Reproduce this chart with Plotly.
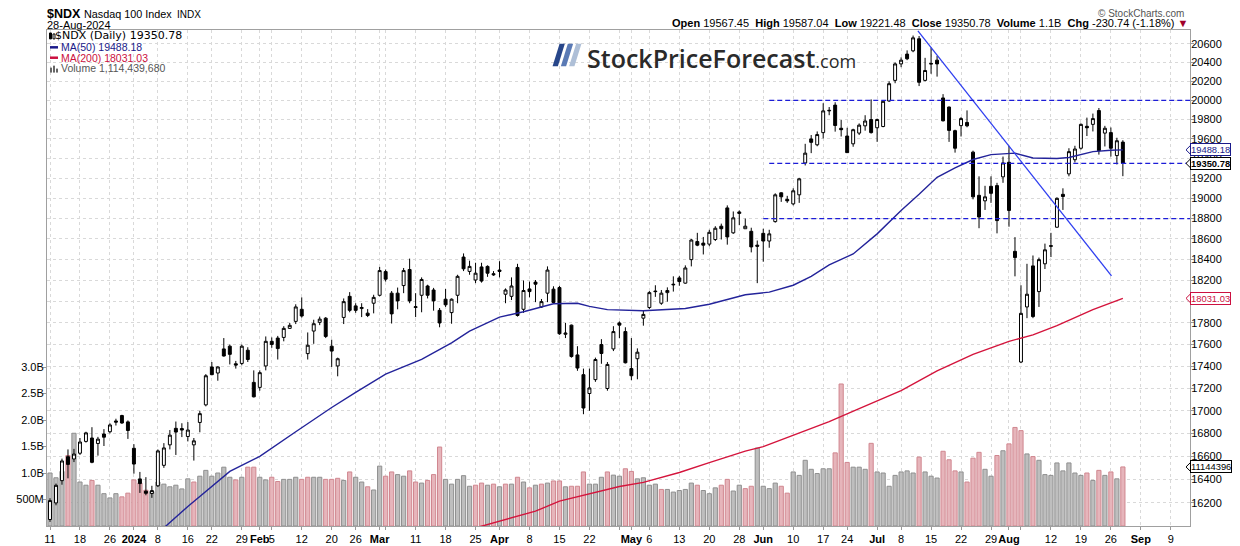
import math
import pandas as pd
import plotly.graph_objects as go

# trading calendar (market holidays skipped, like the chart's x axis)
HOLIDAYS = ["2023-12-25", "2024-01-01", "2024-01-15", "2024-02-19", "2024-03-29",
            "2024-05-27", "2024-06-19", "2024-07-04"]
days = [d for d in pd.bdate_range("2023-12-11", "2024-08-28")
        if d.strftime("%Y-%m-%d") not in HOLIDAYS]
future = list(pd.bdate_range("2024-08-29", "2024-09-13"))
axis_days = [d.strftime("%Y-%m-%d") for d in days + future]
pos = {d: i for i, d in enumerate(axis_days)}
x = list(range(len(days)))

OPEN = [
    16060, 16200, 16390, 16597, 16577, 16627, 16730, 16760, 16712, 16795,
    16815, 16910, 16958, 16902, 16670, 16405, 16300, 16280, 16346, 16522,
    16700, 16845, 16843, 16773, 16700, 16897, 17053, 17395, 17340, 17560,
    17585, 17424, 17427, 17548, 17255, 17210, 17404, 17630, 17660, 17666,
    17750, 17815, 17928, 17517, 17725, 17806, 17845, 17585, 17404, 17852,
    18050, 17960, 17935, 17892, 17985, 18060, 18285, 18080, 18080, 18152,
    18305, 17945, 18060, 18148, 18110, 17918, 18023, 17897, 18060, 18425,
    18287, 18205, 18330, 18335, 18265, 18300, 18070, 18050, 18325, 17928,
    18120, 18185, 17950, 18080, 18118, 18133, 17695, 17780, 17505, 17325,
    17155, 17280, 17600, 17200, 17560, 17800, 17720, 17380, 17470, 17845,
    17945, 18100, 17985, 18085, 18165, 18225, 18175, 18400, 18575, 18560,
    18550, 18595, 18725, 18905, 18660, 18850, 18700, 18675, 18540, 18655,
    18580, 18770, 19055, 18990, 18945, 19035, 19355, 19600, 19540, 19665,
    19890, 19950, 19710, 19630, 19550, 19660, 19735, 19800, 19715, 19728,
    19993, 20210, 20385, 20490, 20525, 20655, 20210, 20390, 20425, 20025,
    19930, 19685, 19737, 19770, 19465, 19030, 18975, 19120, 19127, 19215,
    19362, 18480, 17440, 17950, 18340, 18095, 18360, 18535, 18715, 19040,
    19245, 19388, 19505, 19730, 19750, 19893, 19660, 19665, 19430, 19567.45]
HIGH = [
    16240, 16365, 16580, 16660, 16665, 16760, 16815, 16855, 16770, 16838,
    16890, 16930, 16965, 16915, 16706, 16465, 16420, 16346, 16660, 16715,
    16830, 16905, 16890, 16900, 16760, 17000, 17330, 17440, 17400, 17660,
    17600, 17450, 17600, 17575, 17364, 17364, 17675, 17666, 17680, 17770,
    17800, 17975, 18040, 17712, 17830, 17860, 17855, 17645, 17480, 18030,
    18090, 17985, 17985, 17930, 18065, 18330, 18305, 18100, 18133, 18320,
    18410, 18080, 18230, 18160, 18130, 17940, 18120, 18030, 18255, 18460,
    18390, 18370, 18370, 18345, 18290, 18385, 18125, 18230, 18360, 18200,
    18190, 18205, 18025, 18335, 18145, 18150, 17800, 17785, 17585, 17380,
    17380, 17480, 17650, 17440, 17770, 17815, 17760, 17660, 17565, 17920,
    18100, 18155, 18110, 18135, 18240, 18245, 18345, 18600, 18660, 18620,
    18690, 18725, 18750, 18930, 18870, 18880, 18800, 18710, 18585, 18700,
    18690, 19050, 19060, 19025, 19100, 19205, 19550, 19640, 19677, 19970,
    19930, 19980, 19795, 19715, 19705, 19760, 19845, 20010, 19810, 20000,
    20200, 20400, 20455, 20530, 20690, 20685, 20450, 20560, 20470, 20065,
    19935, 19695, 19825, 19895, 19480, 19220, 19125, 19220, 19155, 19420,
    19530, 18618, 18155, 18360, 18440, 18420, 18555, 18660, 19010, 19100,
    19505, 19530, 19760, 19820, 19862, 19920, 19735, 19718, 19612, 19587.04]
LOW = [
    16040, 16180, 16355, 16410, 16550, 16612, 16720, 16540, 16606, 16690,
    16800, 16870, 16885, 16752, 16450, 16285, 16265, 16243, 16335, 16500,
    16660, 16612, 16768, 16730, 16563, 16810, 17040, 17320, 17270, 17490,
    17418, 17380, 17410, 17440, 17120, 17180, 17364, 17570, 17463, 17630,
    17745, 17790, 17850, 17463, 17607, 17780, 17660, 17395, 17310, 17790,
    17900, 17895, 17855, 17855, 17890, 18050, 18190, 17795, 17928, 18080,
    17985, 17855, 17900, 18030, 17915, 17760, 17950, 17793, 17985, 18290,
    18255, 18175, 18180, 18235, 18245, 18230, 17985, 18015, 17860, 17895,
    18040, 17995, 17940, 17995, 17985, 17690, 17660, 17480, 17360, 16970,
    17000, 17260, 17424, 17180, 17540, 17660, 17427, 17275, 17283, 17775,
    17930, 18045, 17970, 18000, 18095, 18150, 18170, 18335, 18530, 18450,
    18530, 18580, 18595, 18545, 18650, 18735, 18700, 18470, 18175, 18380,
    18515, 18760, 18965, 18955, 18930, 18955, 19330, 19455, 19525, 19605,
    19845, 19675, 19625, 19460, 19520, 19640, 19685, 19655, 19570, 19720,
    19985, 20180, 20350, 20425, 20510, 20150, 20200, 20280, 20250, 19780,
    19570, 19460, 19625, 19720, 18990, 18705, 18885, 18955, 18655, 19155,
    18720, 18240, 17430, 17845, 17845, 17950, 18310, 18425, 18710, 18885,
    19220, 19360, 19490, 19630, 19677, 19440, 19523, 19420, 19340, 19221.48]
CLOSE = [
    16220, 16350, 16560, 16530, 16620, 16725, 16805, 16548, 16750, 16767,
    16875, 16900, 16892, 16826, 16533, 16365, 16282, 16305, 16647, 16673,
    16785, 16812, 16830, 16830, 16735, 16975, 17315, 17325, 17395, 17495,
    17510, 17412, 17585, 17463, 17125, 17343, 17630, 17601, 17563, 17750,
    17778, 17950, 17865, 17594, 17793, 17836, 17675, 17540, 17470, 18000,
    17918, 17918, 17945, 17870, 18040, 18295, 18213, 17885, 18007, 18295,
    18007, 17952, 18210, 18060, 18007, 17800, 17970, 18023, 18240, 18312,
    18335, 18270, 18195, 18270, 18255, 18287, 18110, 18148, 17870, 18105,
    18095, 18165, 18000, 18300, 17992, 17700, 17706, 17490, 17385, 17025,
    17205, 17463, 17518, 17418, 17720, 17780, 17433, 17315, 17530, 17880,
    18085, 18095, 18080, 18105, 18160, 18190, 18320, 18590, 18540, 18540,
    18665, 18705, 18700, 18620, 18807, 18865, 18725, 18523, 18530, 18580,
    18650, 19035, 19015, 18975, 19075, 19195, 19455, 19565, 19645, 19890,
    19895, 19738, 19695, 19460, 19695, 19742, 19785, 19665, 19800, 19990,
    20175, 20385, 20425, 20440, 20665, 20190, 20315, 20385, 20385, 19787,
    19688, 19505, 19810, 19735, 19015, 18815, 19015, 19050, 18780, 19355,
    18880, 18420, 17890, 18070, 17860, 18400, 18495, 18530, 19000, 19018,
    19470, 19497, 19750, 19715, 19810, 19480, 19710, 19505, 19581.52, 19350.78]
VOLUME_B = [
    1.00, 0.91, 1.03, 1.33, 1.75, 0.83, 0.77, 0.86, 0.77, 0.61,
    0.53, 0.61, 0.55, 0.62, 0.87, 0.81, 0.675, 0.65, 0.83, 0.79,
    0.74, 0.77, 0.70, 0.89, 0.83, 0.94, 1.05, 0.94, 1.00, 1.11,
    0.92, 0.87, 0.92, 1.11, 1.11, 0.92, 0.87, 0.92, 0.84, 0.88,
    0.88, 0.92, 0.88, 0.92, 0.92, 0.92, 0.88, 0.88, 0.90, 0.86,
    1.02, 0.92, 0.83, 0.74, 0.68, 1.13, 0.94, 1.02, 0.97, 0.94,
    1.04, 0.83, 0.81, 0.86, 0.97, 1.49, 0.88, 0.79, 0.88, 0.95,
    0.75, 0.77, 0.81, 0.77, 0.79, 0.74, 0.79, 0.79, 0.92, 0.83,
    0.72, 0.77, 0.79, 0.81, 0.85, 0.85, 0.74, 0.75, 0.75, 1.02,
    0.79, 0.79, 0.92, 1.02, 0.96, 0.94, 1.08, 1.03, 0.89, 0.91,
    0.77, 0.79, 0.69, 0.69, 0.64, 0.67, 0.69, 0.81, 0.77, 0.67,
    0.61, 0.72, 0.77, 0.88, 0.66, 0.77, 0.705, 0.75, 1.47, 0.75,
    0.705, 0.81, 0.75, 0.62, 1.02, 0.955, 1.24, 1.07, 0.99, 1.08,
    1.08, 1.38, 2.68, 1.20, 1.11, 1.11, 1.07, 1.56, 1.02, 1.00,
    0.75, 0.955, 1.02, 1.04, 1.00, 1.30, 1.02, 0.94, 0.905, 1.41,
    1.25, 1.04, 1.02, 0.83, 1.28, 1.39, 1.07, 0.94, 1.33, 1.42,
    1.55, 1.86, 1.80, 1.36, 1.31, 1.24, 0.97, 0.955, 1.19, 1.04,
    1.19, 1.00, 0.955, 1.00, 0.86, 1.05, 0.955, 1.02, 0.89, 1.11443968]

# moving averages (trading-day position, value)
MA50_POS = [19, 23, 30, 35, 41, 47, 51, 56, 62, 67, 70, 75, 79, 84, 88, 90, 93, 99, 106, 110,
            116, 120, 124, 127, 130, 134, 138, 140, 142, 145, 148, 151, 154, 157, 161, 164,
            168, 170, 174, 177, 179]
MA50_VAL = [15990, 16170, 16470, 16600, 16815, 17030, 17165, 17330, 17465, 17615, 17725, 17855,
            17905, 17980, 17985, 17955, 17925, 17915, 17935, 17975, 18065, 18090, 18155, 18240,
            18350, 18455, 18650, 18770, 18880, 19040, 19210, 19305, 19390, 19440, 19455, 19405,
            19400, 19410, 19470, 19485, 19488.18]
MA200_POS = [71, 76, 81, 85, 90, 95, 99, 105, 110, 116, 119, 124, 130, 135, 140, 142, 148, 154,
             160, 164, 168, 174, 179]
MA200_VAL = [15990, 16060, 16130, 16215, 16275, 16340, 16375, 16460, 16545, 16645, 16685, 16785,
             16905, 17020, 17135, 17180, 17360, 17510, 17630, 17690, 17775, 17925, 18031.03]

TREND_POS = [144.8, 177.1]
TREND_VAL = [20740, 18245]
LEVELS = [20000, 19350, 18800]
LEVEL_START = [120, 120, 119]

TICKS = [("2023-12-11", "11"), ("2023-12-18", "18"), ("2023-12-26", "26"),
         ("2024-01-02", "<b>2024</b>"), ("2024-01-08", "8"), ("2024-01-16", "16"),
         ("2024-01-22", "22"), ("2024-01-29", "29"), ("2024-02-01", "<b>Feb</b>"),
         ("2024-02-05", "5"), ("2024-02-12", "12"), ("2024-02-20", "20"), ("2024-02-26", "26"),
         ("2024-03-01", "<b>Mar</b>"), ("2024-03-04", ""), ("2024-03-11", "11"),
         ("2024-03-18", "18"), ("2024-03-25", "25"), ("2024-04-01", "<b>Apr</b>"),
         ("2024-04-08", "8"), ("2024-04-15", "15"), ("2024-04-22", "22"), ("2024-04-29", ""),
         ("2024-05-01", "<b>May</b>"), ("2024-05-06", "6"), ("2024-05-13", "13"),
         ("2024-05-20", "20"), ("2024-05-28", "28"), ("2024-06-03", "<b>Jun</b>"),
         ("2024-06-10", "10"), ("2024-06-17", "17"), ("2024-06-24", "24"),
         ("2024-07-01", "<b>Jul</b>"), ("2024-07-08", "8"), ("2024-07-15", "15"),
         ("2024-07-22", "22"), ("2024-07-29", "29"), ("2024-08-01", "<b>Aug</b>"),
         ("2024-08-05", ""), ("2024-08-12", "12"), ("2024-08-19", "19"), ("2024-08-26", "26"),
         ("2024-09-02", "<b>Sep</b>"), ("2024-09-09", "9")]

PRICE_TICKS = list(range(16200, 20601, 200))
VOL_TICKS = [0.5e9, 1.0e9, 1.5e9, 2.0e9, 2.5e9, 3.0e9]
VOL_LABELS = ["500M", "1.0B", "1.5B", "2.0B", "2.5B", "3.0B"]

# Plot area in screenshot pixels. The page keeps the browser's 8px body margin and is
# photographed 8+546+8 px tall squeezed into 546, so the figure is sized for that.
L, R, T, B = 46, 1190, 29, 530
PAGE_MARGIN = 8
FIG_W, FIG_H = 1240 - PAGE_MARGIN, 546
SQ_Y = 546 / (FIG_H + 2 * PAGE_MARGIN)
fig_l = L - PAGE_MARGIN
fig_r = FIG_W - (R - PAGE_MARGIN)
fig_t = T / SQ_Y - PAGE_MARGIN
fig_b = FIG_H - (B / SQ_Y - PAGE_MARGIN)

X_RANGE = [-0.5, 190.2]
P_RANGE = [4.20427, 4.31702]
V_RANGE = [0, 9.36e9]

def px(v):
    return (v - L) / (R - L)
def py(v):
    return (B - v) / (B - T)
def price_px(p):
    return T + (P_RANGE[1] - math.log10(p)) / (P_RANGE[1] - P_RANGE[0]) * (B - T)
def vol_px(v):
    return B - v / V_RANGE[1] * (B - T)

volume = [v * 1e9 for v in VOLUME_B]
down = [i > 0 and CLOSE[i] < CLOSE[i - 1] for i in x]
vol_fill = ["#e6b5bb" if d else "#bebebe" for d in down]
vol_line = ["#d0868f" if d else "#8f8f8f" for d in down]

fig = go.Figure()

fig.add_trace(go.Bar(x=x, y=volume, yaxis="y", width=0.7,
                     marker=dict(color=vol_fill, line=dict(color=vol_line, width=1))))

fig.add_trace(go.Candlestick(x=x, open=OPEN, high=HIGH, low=LOW, close=CLOSE, yaxis="y2",
                             increasing=dict(line=dict(color="black", width=1), fillcolor="white"),
                             decreasing=dict(line=dict(color="black", width=1), fillcolor="black")))

fig.add_trace(go.Scatter(x=MA50_POS, y=MA50_VAL, yaxis="y2", mode="lines",
                         line=dict(color="#23239a", width=1.4)))
fig.add_trace(go.Scatter(x=MA200_POS, y=MA200_VAL, yaxis="y2", mode="lines",
                         line=dict(color="#d4143c", width=1.4)))
fig.add_trace(go.Scatter(x=TREND_POS, y=TREND_VAL, yaxis="y2", mode="lines",
                         line=dict(color="#2f3ff0", width=1.3)))

for lvl, start in zip(LEVELS, LEVEL_START):
    fig.add_trace(go.Scatter(x=[start, X_RANGE[1]], y=[lvl, lvl], yaxis="y2", mode="lines",
                             line=dict(color="#1c1cd8", width=1.3, dash="5px,3px")))

grid = dict(showgrid=True, gridcolor="#d9d9d9", griddash="3px,3px", gridwidth=1)

fig.update_layout(
    width=FIG_W, height=FIG_H,
    margin=dict(l=fig_l, r=fig_r, t=fig_t, b=fig_b, pad=0),
    paper_bgcolor="white", plot_bgcolor="white",
    showlegend=False, hovermode=False,
    font=dict(family="Liberation Sans, Arial", size=11, color="black"),
    xaxis=dict(range=X_RANGE, tickmode="array",
               tickvals=[pos[d] for d, _ in TICKS], ticktext=[t for _, t in TICKS],
               ticks="outside", ticklen=3, tickcolor="#999999", tickangle=0,
               showline=True, linecolor="#a0a0a0", mirror=True, zeroline=False,
               rangeslider=dict(visible=False), tickfont=dict(size=11), **grid),
    yaxis=dict(range=V_RANGE, side="left", tickmode="array",
               tickvals=VOL_TICKS, ticktext=VOL_LABELS,
               ticks="outside", ticklen=3, tickcolor="#999999", ticklabelstandoff=-3,
               showgrid=False, showline=True, linecolor="#a0a0a0", zeroline=False,
               tickfont=dict(size=11)),
    yaxis2=dict(overlaying="y", side="right", type="log",
                range=P_RANGE, tickmode="array",
                tickvals=PRICE_TICKS, ticktext=[str(v) for v in PRICE_TICKS],
                ticks="outside", ticklen=3, tickcolor="#999999", ticklabelstandoff=-5,
                showline=True, linecolor="#a0a0a0", zeroline=False,
                tickfont=dict(size=11), **grid),
)

ann = []
def text(xp, yp, s, size=11, color="black", anchor="left", family="Liberation Sans, Arial", **kw):
    ann.append(dict(xref="paper", yref="paper", x=px(xp), y=py(yp), text=s, showarrow=False,
                    xanchor=anchor, yanchor="middle",
                    font=dict(size=size, color=color, family=family), **kw))

# header
text(44, 13, "<b>$NDX</b>", size=12.5)
text(81, 13, "Nasdaq 100 Index", size=10.8)
text(174, 13, "INDX", size=10)
text(44, 23.5, "28-Aug-2024", size=11)
text(1186, 12.5, "© StockCharts.com", size=10, color="#555555", anchor="right")
text(1190, 22, "<b>Open</b> 19567.45  <b>High</b> 19587.04  <b>Low</b> 19221.48  "
     "<b>Close</b> 19350.78  <b>Volume</b> 1.1B  <b>Chg</b> -230.74 (-1.18%) "
     "<span style='color:#a0002a'>▼</span>", size=11, anchor="right")

# in-chart legend
text(52, 35, "$NDX (Daily) 19350.78", size=11, family="DejaVu Sans")
text(58, 46.5, "MA(50) 19488.18", size=10.5, color="#1a1a8a")
text(58, 57, "MA(200) 18031.03", size=10.5, color="#cc1040")
text(58, 67.5, "Volume 1,114,439,680", size=10.5, color="#555555")

# logo
text(584, 57, "StockPriceForecast<span style='font-size:18px;font-weight:400'>.com</span>",
     size=25, color="#2a2a2a", family="Open Sans")
ann[-1]["font"]["weight"] = 600

shapes = []

# value flags on the right axis
def flag(ypix, label, color, bold=False):
    text(1190, ypix, f"<b>{label}</b>" if bold else label, size=9.4, color=color,
         bgcolor="white", bordercolor=color, borderwidth=1, borderpad=0)
    pts = [(1186, ypix), (1190.5, ypix - 4.5), (1190.5, ypix + 4.5)]
    shapes.append(dict(type="path", xref="paper", yref="paper",
                       path="M " + " L ".join(f"{px(a)},{py(b)}" for a, b in pts) + " Z",
                       fillcolor="white", line=dict(color=color, width=1)))

flag(price_px(19488.18), "19488.18", "#1a1a8a")
flag(price_px(CLOSE[-1]), "19350.78", "black", bold=True)
flag(price_px(18031.03), "18031.03", "#cc1040")
flag(vol_px(volume[-1]), "11144396", "black")

fig.update_layout(annotations=ann)

# logo slashes
for k, col in enumerate(["#27468a", "#5a7ab5", "#aebfd7"]):
    o = 8.3 * k
    pts = [(552 + o, 65.5), (557.3 + o, 65.5), (564.3 + o, 43), (559 + o, 43)]
    path = "M " + " L ".join(f"{px(a)},{py(b)}" for a, b in pts) + " Z"
    shapes.append(dict(type="path", xref="paper", yref="paper", path=path,
                       fillcolor=col, line=dict(width=0)))
# legend icons
shapes.append(dict(type="line", xref="paper", yref="paper", x0=px(49), x1=px(57),
                   y0=py(46.5), y1=py(46.5), line=dict(color="#1a1a8a", width=2.5)))
shapes.append(dict(type="line", xref="paper", yref="paper", x0=px(49), x1=px(57),
                   y0=py(57), y1=py(57), line=dict(color="#cc1040", width=2.5)))
for a, h in [(49, 5), (52, 7), (55, 4)]:
    shapes.append(dict(type="rect", xref="paper", yref="paper", x0=px(a), x1=px(a + 2),
                       y0=py(72), y1=py(72 - h), fillcolor="#666666", line=dict(width=0)))
shapes.append(dict(type="rect", xref="paper", yref="paper", x0=px(48.5), x1=px(50.5),
                   y0=py(38), y1=py(32), fillcolor="black", line=dict(color="black", width=1)))
shapes.append(dict(type="rect", xref="paper", yref="paper", x0=px(52), x1=px(54),
                   y0=py(38), y1=py(33), fillcolor="white", line=dict(color="black", width=1)))
fig.update_layout(shapes=shapes)

fig.write_html("out.html", config={"displayModeBar": False})
